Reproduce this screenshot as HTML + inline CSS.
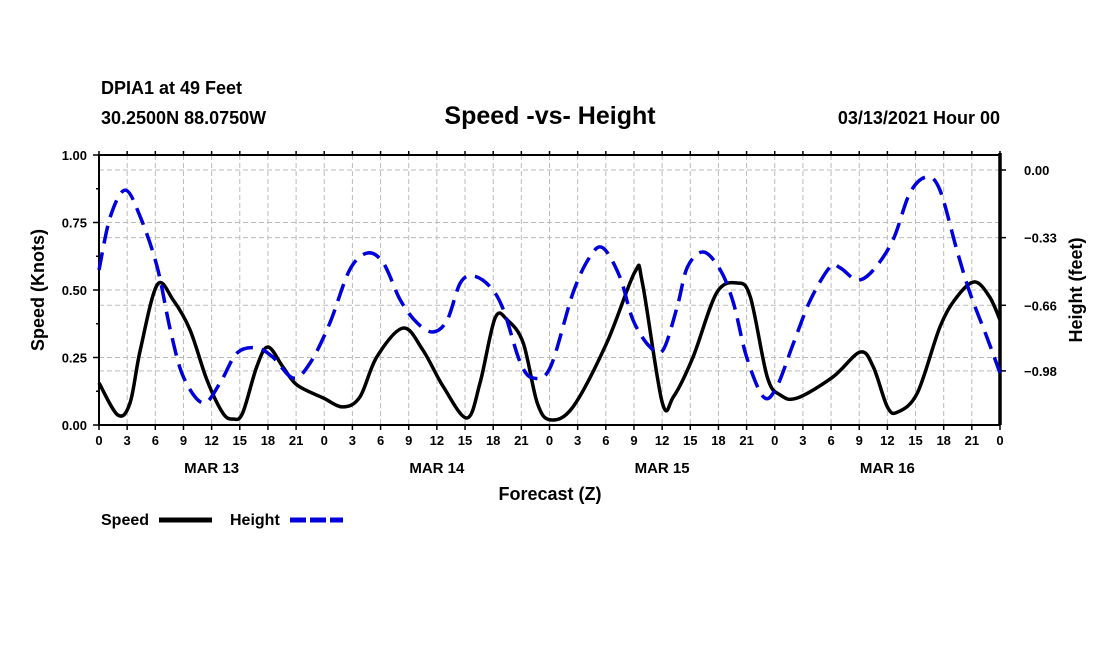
<!DOCTYPE html>
<html><head><meta charset="utf-8"><style>
body{margin:0;background:#fff;}
svg text{font-family:"Liberation Sans",sans-serif;font-weight:bold;fill:#000;}
</style></head><body>
<svg id="chart" width="1100" height="650" viewBox="0 0 1100 650">
<text x="101" y="94" font-size="18">DPIA1 at 49 Feet</text>
<text x="101" y="124" font-size="18">30.2500N 88.0750W</text>
<text x="550" y="124" font-size="25" text-anchor="middle">Speed -vs- Height</text>
<text x="1000" y="124" font-size="18" text-anchor="end">03/13/2021 Hour 00</text>
<g id="grid"></g><g id="axes"></g><g id="series"></g>
<text x="550" y="500" font-size="18" text-anchor="middle">Forecast (Z)</text>
<text transform="translate(44,290) rotate(-90)" font-size="18" text-anchor="middle">Speed (Knots)</text>
<text transform="translate(1082,290) rotate(-90)" font-size="18" text-anchor="middle">Height (feet)</text>
<g>
<text x="101" y="525" font-size="16">Speed</text>
<line x1="159" y1="520" x2="212" y2="520" stroke="#000" stroke-width="5"/>
<text x="230" y="525" font-size="16">Height</text>
<line x1="290" y1="520" x2="343" y2="520" stroke="#0000dd" stroke-width="5" stroke-dasharray="16,4"/>
</g>
</svg>
<script>
const speedHours=[0,2,3.3,4.4,6.2,7.9,9.7,11.5,13.2,14.3,15.3,16.8,18,19.6,21.1,23.9,26,27.8,29.6,32.4,34.5,36.7,39.2,40.6,42.2,43.5,45.2,46.7,48.1,50.5,54.1,57.1,57.9,60,61.2,63.3,65.8,68,69.4,71.2,72.6,74.4,78.2,81.1,82.5,84,85.1,87.2,89.6,91.4,93.3,94.9,96];
const speedValues=[0.156,0.037,0.081,0.278,0.519,0.463,0.352,0.167,0.044,0.022,0.044,0.215,0.289,0.215,0.148,0.1,0.067,0.104,0.252,0.359,0.278,0.141,0.026,0.156,0.396,0.389,0.304,0.081,0.019,0.067,0.304,0.567,0.526,0.085,0.104,0.252,0.489,0.526,0.474,0.178,0.111,0.1,0.178,0.27,0.215,0.067,0.048,0.119,0.363,0.474,0.53,0.474,0.389];
const heightHours=[0,1.2,2.8,4.4,6.2,7.6,9,11.1,12.9,14.7,16.8,18.5,20.7,22.5,24.6,26.7,28.6,30.3,32.1,33.9,35.6,37.1,38.5,39.9,41.7,43.1,44.9,46.3,48.1,50.5,52.3,53.7,55.5,56.9,58.7,60.1,61.6,62.7,64.4,66.2,67.6,69,70.8,72.2,74,75.8,77.9,79,80.8,82.5,84.6,86.4,88.2,89.6,91.4,92.8,94.6,96];
const heightValues=[-0.488,-0.229,-0.098,-0.229,-0.473,-0.78,-1.01,-1.137,-1.039,-0.893,-0.868,-0.912,-1.015,-0.941,-0.746,-0.488,-0.405,-0.454,-0.634,-0.746,-0.79,-0.732,-0.551,-0.517,-0.571,-0.683,-0.941,-1.015,-0.961,-0.6,-0.424,-0.38,-0.522,-0.732,-0.863,-0.878,-0.668,-0.473,-0.4,-0.488,-0.649,-0.912,-1.107,-1.059,-0.844,-0.634,-0.473,-0.478,-0.537,-0.488,-0.341,-0.112,-0.034,-0.098,-0.39,-0.6,-0.815,-0.99];
const speedTicks=[0,0.25,0.5,0.75,1.0];
const speedTickLabels=["0.00","0.25","0.50","0.75","1.00"];
const heightTicks=[0,-0.33,-0.66,-0.98];
const heightTickLabels=["0.00","\u22120.33","\u22120.66","\u22120.98"];
const dayLabels=["MAR 13","MAR 14","MAR 15","MAR 16"];

const NS="http://www.w3.org/2000/svg";
const L=99,R=1000,T=155,B=425;
const xS=h=>L+h*(R-L)/96;
const yS=v=>B-v*(B-T);
const yH=v=>170-v*205;
function mk(tag,attrs,parent){const e=document.createElementNS(NS,tag);for(const k in attrs)e.setAttribute(k,attrs[k]);parent.appendChild(e);return e;}
const grid=document.getElementById('grid'),axes=document.getElementById('axes'),series=document.getElementById('series');
for(let h=3;h<96;h+=3){const l=mk('line',{x1:xS(h),x2:xS(h),y1:T,y2:B,stroke:'#bbb','stroke-dasharray':'5,3'},grid);

}
speedTicks.forEach(v=>{if(v>0&&v<1){const l=mk('line',{x1:L,x2:R,y1:yS(v),y2:yS(v),stroke:'#bbb','stroke-dasharray':'5,3'},grid);

}});
heightTicks.forEach(v=>{const l=mk('line',{x1:L,x2:R,y1:yH(v),y2:yH(v),stroke:'#bbb','stroke-dasharray':'5,3'},grid);

});
// frame
const fr=mk('path',{d:`M${L},${T}H${R}M${L},${T}V${B}H${R}`,stroke:'#000','stroke-width':2,fill:'none'},axes);


const ra=mk('line',{x1:R,x2:R,y1:T-2,y2:B,stroke:'#000','stroke-width':3.5},axes);


for(let h=0;h<=96;h+=3){
 mk('line',{x1:xS(h),x2:xS(h),y1:B,y2:B+5,stroke:'#000','stroke-width':1.5},axes);
 mk('line',{x1:xS(h),x2:xS(h),y1:T,y2:T-4,stroke:'#000','stroke-width':1.5},axes);
 const t=mk('text',{x:xS(h),y:B+20,'font-size':13,'text-anchor':'middle'},axes);t.textContent=String(h%24);
 
 }
dayLabels.forEach((d,i)=>{const t=mk('text',{x:xS(i*24+12),y:B+48,'font-size':15,'text-anchor':'middle'},axes);t.textContent=d;
 
 });
for(let v=0;v<=1.001;v+=0.125){mk('line',{x1:L,x2:L-(Math.abs(v*4-Math.round(v*4))<0.01?6:3),y1:yS(v),y2:yS(v),stroke:'#000','stroke-width':1.5},axes);}
speedTicks.forEach((v,i)=>{const t=mk('text',{x:L-12,y:yS(v)+5,'font-size':13,'text-anchor':'end'},axes);t.textContent=speedTickLabels[i];
 
 });
heightTicks.forEach((v,i)=>{mk('line',{x1:R,x2:R+6,y1:yH(v),y2:yH(v),stroke:'#000','stroke-width':1.5},axes);
 const t=mk('text',{x:R+24,y:yH(v)+5,'font-size':13},axes);t.textContent=heightTickLabels[i];
 
 });
function smooth(xs,ys){const p=xs.map((x,i)=>[x,ys[i]]);let d=`M${p[0][0]},${p[0][1]}`;
 for(let i=0;i<p.length-1;i++){const p0=p[i-1]||p[i],p1=p[i],p2=p[i+1],p3=p[i+2]||p2;
 d+=`C${p1[0]+(p2[0]-p0[0])/6},${p1[1]+(p2[1]-p0[1])/6} ${p2[0]-(p3[0]-p1[0])/6},${p2[1]-(p3[1]-p1[1])/6} ${p2[0]},${p2[1]}`;}return d;}
const n1=Math.min(speedHours.length,speedValues.length),n2=Math.min(heightHours.length,heightValues.length);
const sp=mk('path',{d:smooth(speedHours.slice(0,n1).map(xS),speedValues.slice(0,n1).map(yS)),stroke:'#000','stroke-width':3.5,fill:'none','stroke-linejoin':'round'},series);


const hp=mk('path',{d:smooth(heightHours.slice(0,n2).map(xS),heightValues.slice(0,n2).map(yH)),stroke:'#0000dd','stroke-width':3.5,fill:'none','stroke-dasharray':'18,9'},series);


</script>
</body></html>
